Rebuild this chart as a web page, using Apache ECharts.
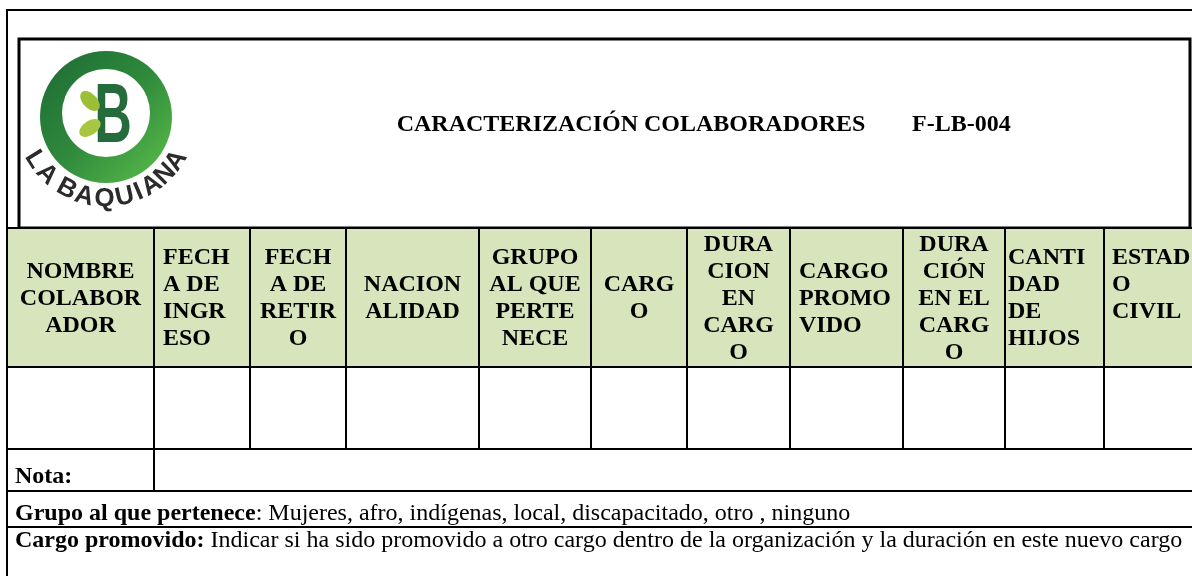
<!DOCTYPE html>
<html><head><meta charset="utf-8">
<script src="https://cdn.jsdelivr.net/npm/echarts@6/dist/echarts.min.js"></script>
<style>html,body{margin:0;padding:0;background:#fff}#c{width:1192px;height:576px}</style>
</head><body><div id="c"></div>
<script>
// ---- content ----
const titleText = 'CARACTERIZACIÓN COLABORADORES';
const formCode = 'F-LB-004';
const headerLabels = [
  ['NOMBRE','COLABOR','ADOR'],
  ['FECH','A DE','INGR','ESO'],
  ['FECH','A DE','RETIR','O'],
  ['NACION','ALIDAD'],
  ['GRUPO','AL QUE','PERTE','NECE'],
  ['CARG','O'],
  ['DURA','CION','EN','CARG','O'],
  ['CARGO','PROMO','VIDO'],
  ['DURA','CIÓN','EN EL','CARG','O'],
  ['CANTI','DAD','DE','HIJOS'],
  ['ESTAD','O','CIVIL']
];
const noteLabel = 'Nota:';
const footBold = ['Grupo al que pertenece', 'Cargo promovido:'];
const footText = [': Mujeres, afro, indígenas, local, discapacitado, otro , ninguno',
                  ' Indicar si ha sido promovido a otro cargo dentro de la organización y la duración en este nuevo cargo'];
const logoName = 'LA BAQUIANA';

// ---- layout / styles ----
const colEdges = [7,154,250,346,479,591,687,790,903,1005,1104,1200];
const headerAlign = ['center','left','center','center','center','center','center','left','center','left','left'];
const headerPad = [0,9,0,0,0,0,0,9,0,3,8];
const headerMinLines = [0,0,0,0,0,0,0,0,0,4,4];
const rowHeader = [228,367], rowData = [367,449], rowNota = [449,491], rowGrupo = [491,527], rowCargo = [527,600];
const HFONT = 'bold 24px "Liberation Serif"';
const LH = 27;
const GREEN = '#d8e4bc';

const items = [];
items.push({k:'frame'});
items.push({k:'rect', x0:19, y0:39, x1:1190, y1:228, lw:3});
items.push({k:'text', x:631, y:125, text:titleText, font:'bold 24px "Liberation Serif"', align:'center'});
items.push({k:'text', x:912, y:125, text:formCode, font:'bold 24px "Liberation Serif"', align:'left'});
headerLabels.forEach((lines, i) => {
  const x0 = colEdges[i], x1 = colEdges[i+1];
  items.push({k:'rect', x0, y0:rowHeader[0], x1, y1:rowHeader[1], fill:GREEN, lw:2});
  const n = Math.max(lines.length, headerMinLines[i]);
  const mid = (rowHeader[0] + rowHeader[1]) / 2 + 1;
  const top = mid - n * LH / 2;
  const al = headerAlign[i];
  const tx = al === 'center' ? (x0 + x1) / 2 : x0 + headerPad[i];
  items.push({k:'text', x:tx, y:top, text:lines.join('\n'), font:HFONT, align:al, va:'top', lh:LH});
  items.push({k:'rect', x0, y0:rowData[0], x1, y1:rowData[1], lw:2});
});
items.push({k:'rect', x0:7, y0:rowNota[0], x1:154, y1:rowNota[1], lw:2});
items.push({k:'rect', x0:154, y0:rowNota[0], x1:1200, y1:rowNota[1], lw:2});
items.push({k:'text', x:15, y:477, text:noteLabel, font:'bold 24px "Liberation Serif"', align:'left'});
items.push({k:'rect', x0:7, y0:rowGrupo[0], x1:1200, y1:rowGrupo[1], lw:2});
items.push({k:'rich', x:15, y:514, b:footBold[0], t:footText[0]});
items.push({k:'rich', x:15, y:541, b:footBold[1], t:footText[1]});

function renderItem(params, api) {
  const it = items[params.dataIndex];
  const c = (x, y) => api.coord([x, y]);
  if (it.k === 'frame') {
    return {type:'polyline', shape:{points:[c(1200,10), c(7,10), c(7,600)]}, style:{stroke:'#000', lineWidth:2, fill:null}};
  }
  if (it.k === 'rect') {
    const p0 = c(it.x0, it.y0), p1 = c(it.x1, it.y1);
    return {type:'rect', shape:{x:p0[0], y:p0[1], width:p1[0]-p0[0], height:p1[1]-p0[1]},
      style:{fill: it.fill || '#fff', stroke:'#000', lineWidth: it.lw}};
  }
  if (it.k === 'text') {
    const p = c(it.x, it.y);
    return {type:'text', x:p[0], y:p[1], style:{text:it.text, font:it.font, fill:'#000',
      align:it.align, textAlign:it.align, verticalAlign:it.va || 'middle', textVerticalAlign:it.va || 'middle', lineHeight: it.lh}};
  }
  if (it.k === 'rich') {
    const p = c(it.x, it.y);
    return {type:'text', x:p[0], y:p[1], style:{text:'{b|' + it.b + '}{r|' + it.t + '}', fill:'#000',
      align:'left', verticalAlign:'middle', textVerticalAlign:'middle',
      rich:{b:{font:'bold 24px "Liberation Serif"', fill:'#000'}, r:{font:'24px "Liberation Serif"', fill:'#000'}}}};
  }
}

// ---- logo (decorative) ----
const LC = [106, 117];
const logo = [];
logo.push({type:'circle', z:100, shape:{cx:LC[0], cy:LC[1], r:66},
  style:{fill:new echarts.graphic.LinearGradient(0,0,1,1,[{offset:0,color:'#1d6a34'},{offset:0.5,color:'#2f8a3c'},{offset:1,color:'#5dc04a'}])}});
logo.push({type:'circle', z:101, shape:{cx:106, cy:113, r:44}, style:{fill:'#fff'}});
logo.push({type:'text', z:102, x:113, y:119, scaleX:0.62, style:{text:'B', font:'bold 84px "Liberation Sans"', fill:'#256b3b', align:'center', verticalAlign:'middle', textAlign:'center', textVerticalAlign:'middle'}});
logo.push({type:'ellipse', z:103, shape:{cx:0, cy:0, rx:12, ry:7}, x:90, y:101, rotation:-0.8, style:{fill:'#9dbf38'}});
logo.push({type:'ellipse', z:103, shape:{cx:0, cy:0, rx:12, ry:7}, x:90, y:128, rotation:0.6, style:{fill:'#a8c640'}});
const letterAngles = [58, 45, 0, 28, 15, 1, -13, -23, -33, -45, -57];
const R = 84;
logoName.split('').forEach((ch, i) => {
  if (ch === ' ') return;
  const th = letterAngles[i] * Math.PI / 180;
  logo.push({type:'text', z:104, x: LC[0] - R * Math.sin(th), y: LC[1] - 2 + R * Math.cos(th), rotation: -th,
    style:{text:ch, font:'bold 26px "Liberation Sans"', fill:'#2b2b2b', align:'center', verticalAlign:'middle', textAlign:'center', textVerticalAlign:'middle'}});
});

const chart = echarts.init(document.getElementById('c'), null, {renderer:'canvas'});
chart.setOption({
  animation:false,
  grid:{left:0, right:0, top:0, bottom:0},
  xAxis:{type:'value', min:0, max:1192, show:false},
  yAxis:{type:'value', min:0, max:576, inverse:true, show:false},
  series:[{type:'custom', renderItem, data: items.map((_, i) => [i]), clip:false, silent:true}],
  graphic: logo
});
</script></body></html>
